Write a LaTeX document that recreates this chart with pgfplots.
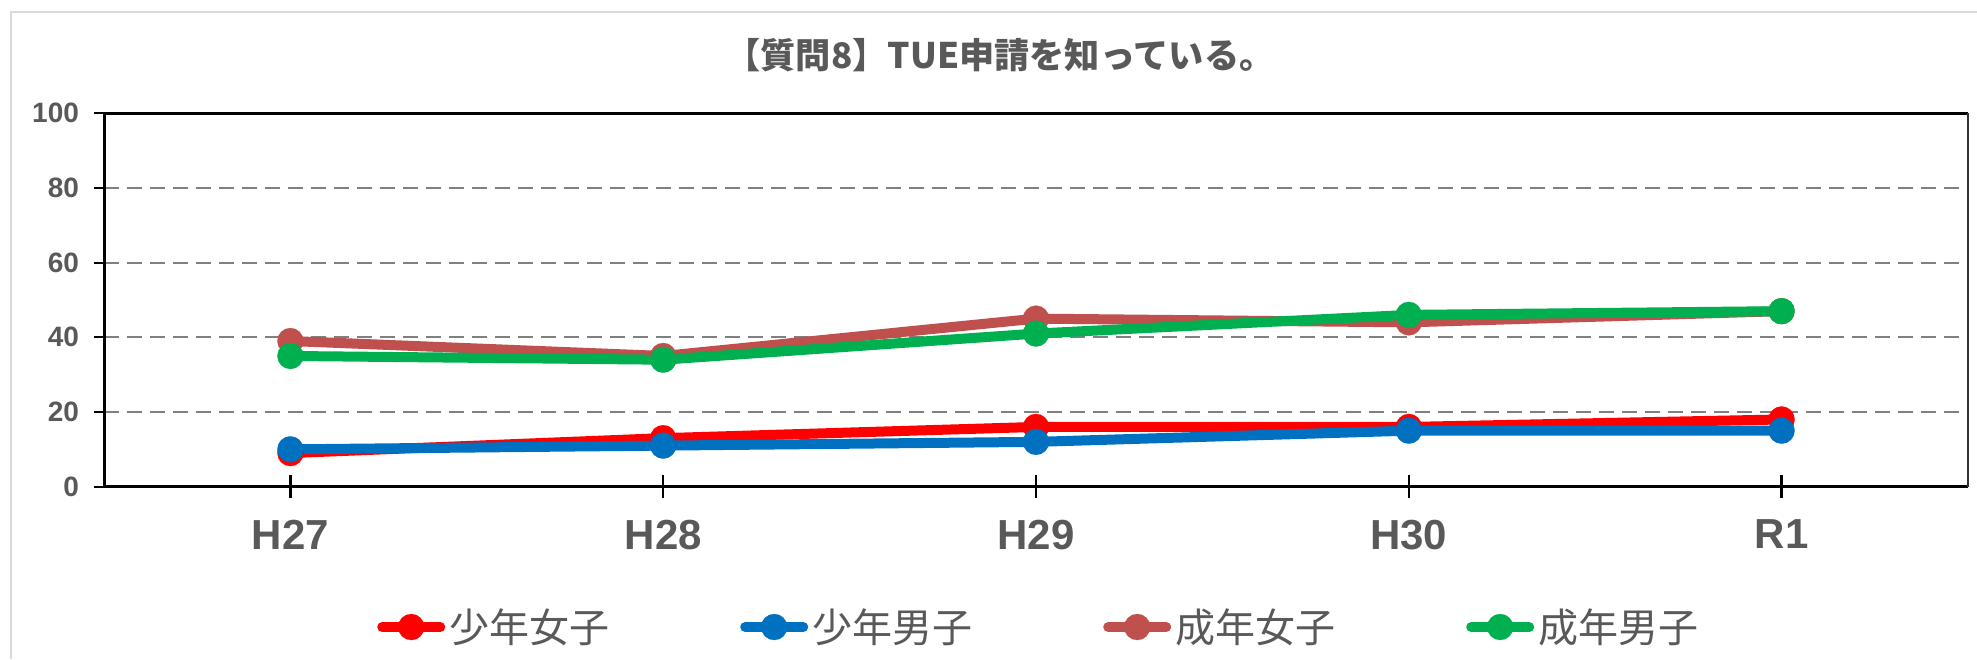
\documentclass[border=0pt]{standalone}
\usepackage{fontspec}
\setmainfont{Liberation Sans}
\newfontfamily\jp{Noto Sans CJK JP}
\usepackage{pgfplots}
\pgfplotsset{compat=1.18}
\definecolor{txt}{HTML}{595959}
\definecolor{cred}{HTML}{FF0000}
\definecolor{cblue}{HTML}{0070C0}
\definecolor{cbrown}{HTML}{C0504D}
\definecolor{cgreen}{HTML}{00B050}
\definecolor{framec}{HTML}{D9D9D9}
\begin{document}
\begin{tikzpicture}
\path[use as bounding box] (0,0) rectangle (988.5pt,329.5pt);
\draw[framec, line width=1pt] (5.5pt,0) -- (5.5pt,323.5pt) -- (988.5pt,323.5pt);
\node[text=txt, font=\jp\bfseries\fontsize{17.6}{17.6}\selectfont] at (500pt,302pt) {【質問8】TUE申請を知っている。};
\begin{axis}[
  at={(52pt,86.15pt)}, anchor=south west,
  scale only axis, width=932pt, height=186.75pt,
  clip=false,
  xmin=-0.5, xmax=4.5, ymin=0, ymax=100,
  xtick={0,...,4}, xticklabels={H27,H28,H29,H30,R1},
  ytick={0,20,...,100},
  tick pos=left,
  axis line style={draw=none},
  tick align=outside, major tick length=5pt,
  tick style={black, line width=1pt},
  xtick style={draw=none},
  ymajorgrids, grid style={gray, dash pattern=on 7.5pt off 4pt, line width=1pt},
  /pgf/number format/assume math mode=true,
  yticklabel style={text=txt, font=\bfseries\fontsize{14}{14}\selectfont, xshift=-4pt},
  xticklabel style={text=txt, font=\bfseries\fontsize{21}{21}\selectfont, yshift=-8pt},
  legend columns=4,
  legend style={at={(0.502,-0.3757)}, anchor=center, draw=none, fill=none,
    font=\jp\fontsize{20}{20}\selectfont, text=txt,
    /tikz/every even column/.append style={column sep=63.5pt}},
  legend image code/.code={\draw[mark repeat=2, mark phase=2, line cap=round, #1] plot coordinates {(0pt,0pt)(14.5pt,0pt)(29pt,0pt)};},
  every axis plot/.append style={line width=5pt, mark=*, mark size=6.5pt, line join=round},
]
\addplot[cred, mark options={fill=cred, line width=0.1pt}] coordinates {(0,9) (1,13) (2,16) (3,16) (4,18)};
\addlegendentry{少年女子}
\addplot[cblue, mark options={fill=cblue, line width=0.1pt}] coordinates {(0,10) (1,11) (2,12) (3,15) (4,15)};
\addlegendentry{少年男子}
\addplot[cbrown, mark options={fill=cbrown, line width=0.1pt}] coordinates {(0,39) (1,35) (2,45) (3,44) (4,47)};
\addlegendentry{成年女子}
\addplot[cgreen, mark options={fill=cgreen, line width=0.1pt}] coordinates {(0,35) (1,34) (2,41) (3,46) (4,47)};
\addlegendentry{成年男子}
\draw[black, line width=1.5pt] (rel axis cs:1,1) -- (rel axis cs:0,1) -- (rel axis cs:0,0) -- (rel axis cs:1,0);
\draw[black!80, line width=0.75pt] (rel axis cs:1,0) -- (rel axis cs:1,1);
\draw[black, line width=1.2pt] (axis cs:0,3) -- (axis cs:0,-3);
\draw[black, line width=1.2pt] (axis cs:1,3) -- (axis cs:1,-3);
\draw[black, line width=1.2pt] (axis cs:2,3) -- (axis cs:2,-3);
\draw[black, line width=1.2pt] (axis cs:3,3) -- (axis cs:3,-3);
\draw[black, line width=1.2pt] (axis cs:4,3) -- (axis cs:4,-3);
\end{axis}
\end{tikzpicture}
\end{document}
